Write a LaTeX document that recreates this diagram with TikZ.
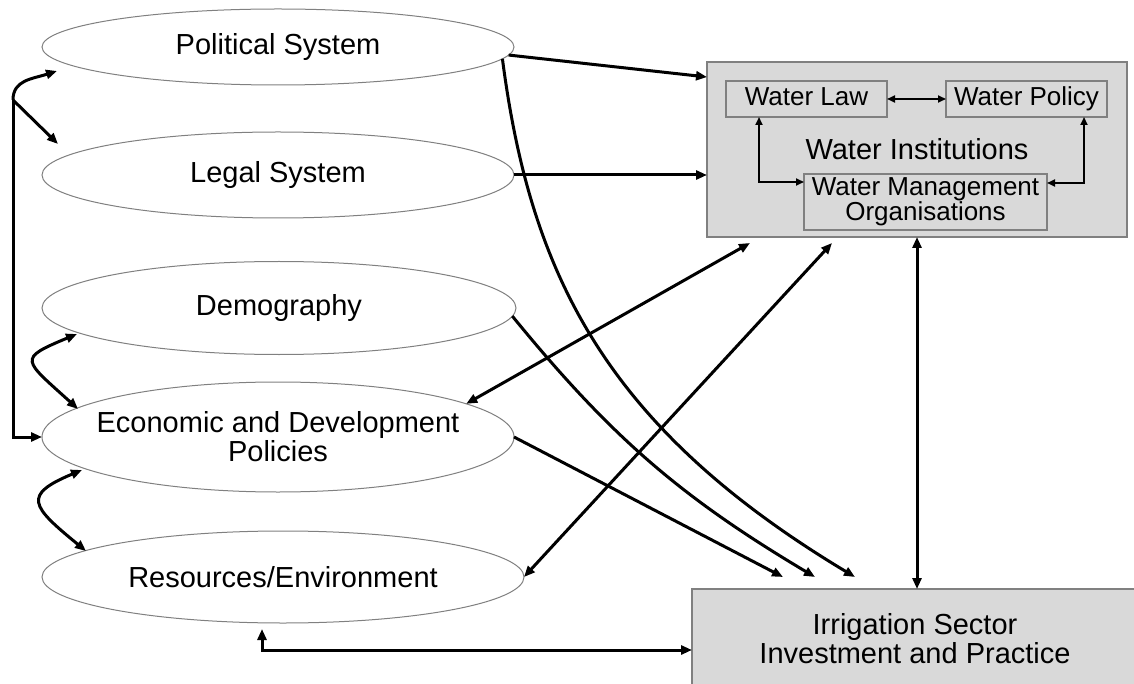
\documentclass[tikz,border=0pt]{standalone}
\usepackage{fontspec}
\setmainfont{Liberation Sans}
\usetikzlibrary{shapes.geometric,arrows.meta}

\begin{document}
\begin{tikzpicture}[x=1pt,y=-1pt,>={Triangle[length=11pt,width=9pt]},
  sys/.style={ellipse,draw=gray,line width=1pt,fill=white,inner sep=0pt,outer sep=0pt},
  big/.style={font=\fontsize{29}{29}\selectfont,align=center},
  small/.style={font=\fontsize{26}{25}\selectfont,align=center},
  oneline/.style={text height=19pt,text depth=5pt},
  panel/.style={rectangle,draw=gray,line width=1.2pt,fill=gray!30,inner sep=0pt,outer sep=0pt},
  link/.style={line width=3pt},
  inlink/.style={line width=1.8pt,>={Triangle[length=8pt,width=7pt]}}]
\path[use as bounding box,fill=white] (0,0) rectangle (1134,684);
\node[sys,minimum width=472pt,minimum height=76pt,label={[big]center:Political System}] (pol) at (278,47) {};
\node[sys,minimum width=472pt,minimum height=86pt,label={[big]center:Legal System}] (leg) at (278,175) {};
\node[sys,minimum width=474pt,minimum height=93pt,label={[big]center:Demography}] (dem) at (279,308) {};
\node[sys,minimum width=472pt,minimum height=110pt,label={[big]center:Economic and Development\\Policies}] (econ) at (278,437) {};
\node[sys,minimum width=482pt,minimum height=92pt,label={[big]center:Resources/Environment}] (res) at (283,577) {};
\node[panel,big,minimum width=420pt,minimum height=175pt] (wi) at (917,149.5) {Water Institutions};
\node[panel,small,oneline,minimum width=161pt,minimum height=36pt] (law) at (806.5,99) {Water Law};
\node[panel,small,oneline,minimum width=161pt,minimum height=36pt] (wpol) at (1026.5,99) {Water Policy};
\node[panel,small,minimum width=243pt,minimum height=56pt] (wmo) at (925.5,202) {Water Management\\Organisations};
\node[panel,big,minimum width=446pt,minimum height=100pt] (irr) at (915,639) {Irrigation Sector\\Investment and Practice};
\draw[inlink,<->] (law) -- (wpol);
\draw[inlink,<->] ([xshift=-47.5pt]law.south) |- ([yshift=20pt]wmo.west);
\draw[inlink,<->] ([xshift=57.5pt]wpol.south) |- ([yshift=19pt]wmo.east);
\draw[link,->] (pol.-2) -- ([yshift=-15pt]wi.north west);
\draw[link,->] (leg.east) -- (leg.east -| wi.west);
\draw[link,->] (pol.-3) .. controls +(28,215) and +(-250,-150) .. ([xshift=163pt,yshift=12pt]irr.north west);
\draw[link,->] (dem.-2) to[bend right=10] ([xshift=123pt,yshift=12pt]irr.north west);
\draw[link,->] (econ.east) -- ([xshift=91pt,yshift=12pt]irr.north west);
\draw[link,<->] ([xshift=43pt,yshift=-6pt]wi.south west) -- (econ.10);
\draw[link,<->] ([xshift=125pt,yshift=-6pt]wi.south west) -- (res.east);
\draw[link,<->] (wi.south) -- (wi.south |- irr.north);
\draw[link,<->] ([xshift=-21pt,yshift=-6pt]res.south) |- ([yshift=-11pt]irr.west);
\coordinate (fork) at (13,100);
\draw[link,->] (fork) |- (econ.west);
\draw[link,->] (fork) .. controls +(0,-20) and +(-25,8) .. ([xshift=15pt,yshift=-24pt]pol.west);
\draw[link,->] (fork) -- ([xshift=16pt,yshift=31pt]leg.west);
\draw[link,<->] ([xshift=35pt,yshift=-26pt]dem.west) .. controls +(-60,25) and +(-55,-50) .. ([xshift=36pt,yshift=28pt]econ.west);
\draw[link,<->] ([xshift=40pt,yshift=-33pt]econ.west) .. controls +(-60,25) and +(-55,-45) .. ([xshift=44pt,yshift=26pt]res.west);
\end{tikzpicture}
\end{document}
